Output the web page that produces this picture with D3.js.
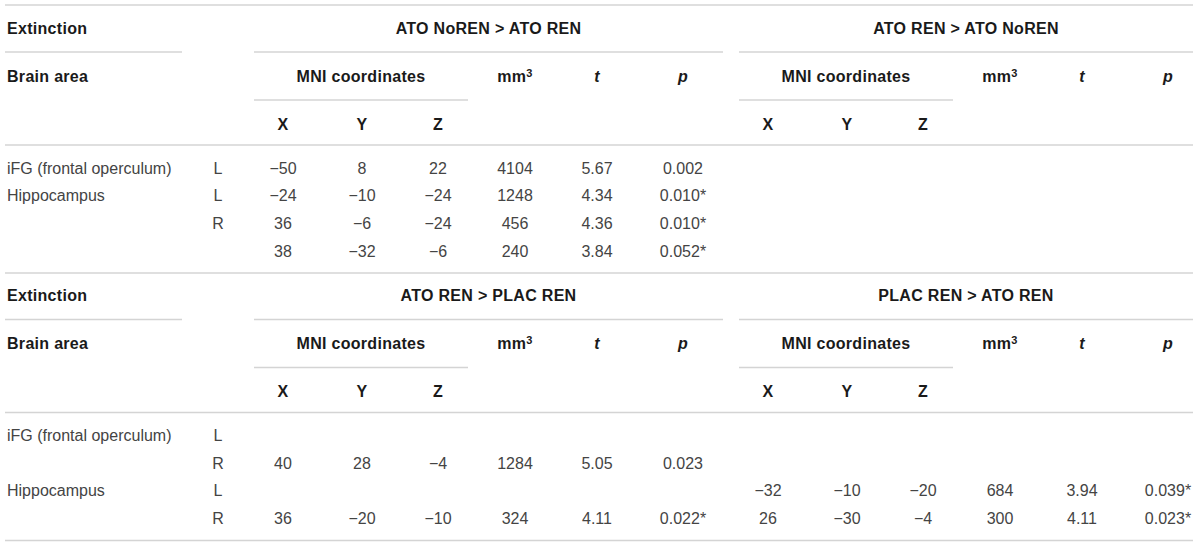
<!DOCTYPE html>
<html>
<head>
<meta charset="utf-8">
<script src="https://cdn.jsdelivr.net/npm/d3@7"></script>
<style>
	body { margin: 0; background: #fff; }
	text { font-family: "Liberation Sans", Arial, sans-serif; font-size: 16px; }
	.hd { font-weight: bold; fill: #1a1a1a; letter-spacing: 0.3px; }
	.cell { fill: #444; }
	.rule { stroke: #d4d4d4; stroke-width: 1.6; }
</style>
</head>
<body>
<svg id="tbl" width="1200" height="547"></svg>
<script>
/* global d3 */

// data
const sectionTitles = ['Extinction', 'Extinction'];
const comparisons1 = ['ATO NoREN > ATO REN', 'ATO REN > ATO NoREN'];
const comparisons2 = ['ATO REN > PLAC REN', 'PLAC REN > ATO REN'];
const columns = ['X', 'Y', 'Z', 'mm3', 't', 'p'];

const areas1 = ['iFG (frontal operculum)', 'Hippocampus', '', ''];
const hemis1 = ['L', 'L', 'R', ''];
// [x, y, z, mm3, t, p], null = empty
const left1 = [
	[-50, 8, 22, 4104, 5.67, 0.002],
	[-24, -10, -24, 1248, 4.34, 0.010],
	[36, -6, -24, 456, 4.36, 0.010],
	[38, -32, -6, 240, 3.84, 0.052],
];
const leftStar1 = [false, true, true, true];
const right1 = [null, null, null, null];
const rightStar1 = [false, false, false, false];

const areas2 = ['iFG (frontal operculum)', '', 'Hippocampus', ''];
const hemis2 = ['L', 'R', 'L', 'R'];
const left2 = [
	null,
	[40, 28, -4, 1284, 5.05, 0.023],
	null,
	[36, -20, -10, 324, 4.11, 0.022],
];
const leftStar2 = [false, false, false, true];
const right2 = [
	null,
	null,
	[-32, -10, -20, 684, 3.94, 0.039],
	[26, -30, -4, 300, 4.11, 0.023],
];
const rightStar2 = [false, false, true, true];

// layout
const svg = d3.select('#tbl');
const left = 5, right = 1193;
const groupX = d3.scaleOrdinal().domain([0, 1]).range([254, 739]);
const groupEnd = d3.scaleOrdinal().domain([0, 1]).range([723, 1193]);
const colX = d3.scaleOrdinal().domain(columns).range([29, 108, 184, 261, 343, 429]);
const mniWidth = 214;
const sectionY = d3.scaleLinear().domain([0, 1]).range([0, 267.5]);
const rowY = d3.scaleLinear().domain([0, 3]).range([168, 251]);

const fmtInt = d3.format('d');
const fmtT = d3.format('.2f');
const fmtP = d3.format('.3f');
const fmt = [fmtInt, fmtInt, fmtInt, fmtInt, fmtT, fmtP];

const rule = (g, x1, x2, y) => g.append('line').attr('class', 'rule')
	.attr('x1', x1).attr('x2', x2).attr('y1', y).attr('y2', y);

const drawSection = (s, comps, areas, hemis, groups, stars) => {
	const g = svg.append('g').attr('transform', `translate(0,${sectionY(s)})`);

	if (s === 0) { rule(g, left, right, 5); }
	g.append('text').attr('class', 'hd').attr('x', 7).attr('y', 28).attr('dy', '0.35em').text(sectionTitles[s]);
	rule(g, left, 182, 52);
	g.append('text').attr('class', 'hd').attr('x', 7).attr('y', 76).attr('dy', '0.35em').text('Brain area');

	comps.forEach((c, gi) => {
		const gx = groupX(gi);
		g.append('text').attr('class', 'hd').attr('text-anchor', 'middle')
			.attr('x', (gx + groupEnd(gi)) / 2).attr('y', 28).attr('dy', '0.35em').text(c);
		rule(g, gx, groupEnd(gi), 52);
		g.append('text').attr('class', 'hd').attr('text-anchor', 'middle')
			.attr('x', gx + mniWidth / 2).attr('y', 76).attr('dy', '0.35em').text('MNI coordinates');
		rule(g, gx, gx + mniWidth, 100);

		for (const col of ['X', 'Y', 'Z']) {
			g.append('text').attr('class', 'hd').attr('text-anchor', 'middle')
				.attr('x', gx + colX(col)).attr('y', 124).attr('dy', '0.35em').text(col);
		}
		const mm = g.append('text').attr('class', 'hd').attr('text-anchor', 'middle')
			.attr('x', gx + colX('mm3')).attr('y', 76).attr('dy', '0.35em');
		mm.append('tspan').text('mm');
		mm.append('tspan').attr('dy', '-0.45em').style('font-size', '11px').text('3');
		for (const col of ['t', 'p']) {
			g.append('text').attr('class', 'hd').attr('text-anchor', 'middle').style('font-style', 'italic')
				.attr('x', gx + colX(col)).attr('y', 76).attr('dy', '0.35em').text(col);
		}

		const rows = groups[gi];
		rows.forEach((r, ri) => {
			if (!r) { return; }
			r.forEach((v, ci) => {
				const col = columns[ci];
				let txt = fmt[ci](v);
				if (col === 'p' && stars[gi][ri]) { txt += '*'; }
				g.append('text').attr('class', 'cell').attr('text-anchor', 'middle')
					.attr('x', gx + colX(col)).attr('y', rowY(ri)).attr('dy', '0.35em').text(txt);
			});
		});
	});

	rule(g, left, right, 145);

	areas.forEach((a, ri) => {
		g.append('text').attr('class', 'cell').attr('x', 7).attr('y', rowY(ri)).attr('dy', '0.35em').text(a);
		g.append('text').attr('class', 'cell').attr('text-anchor', 'middle')
			.attr('x', 218).attr('y', rowY(ri)).attr('dy', '0.35em').text(hemis[ri]);
	});

	rule(g, left, right, 273);
};

drawSection(0, comparisons1, areas1, hemis1, [left1, right1], [leftStar1, rightStar1]);
drawSection(1, comparisons2, areas2, hemis2, [left2, right2], [leftStar2, rightStar2]);
</script>
</body>
</html>
